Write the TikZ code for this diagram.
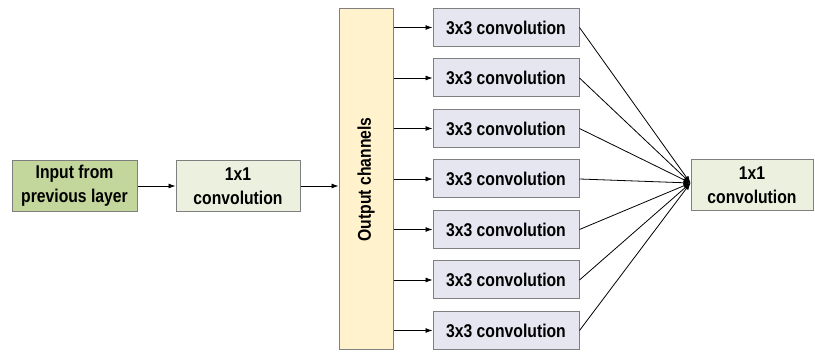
\documentclass[tikz,border=0pt]{standalone}
\usepackage{fontspec}
\setmainfont{Liberation Sans}[FakeStretch=0.85]
\usetikzlibrary{arrows.meta,positioning}

\definecolor{edgegray}{HTML}{7F7F7F}
\definecolor{inputgreen}{HTML}{C3D69B}
\definecolor{convgreen}{HTML}{EBF1DE}
\definecolor{chanyellow}{HTML}{FFF2CC}
\definecolor{convlilac}{HTML}{E6E6F0}

\tikzset{
  block/.style={draw=edgegray, line width=1pt, inner sep=0pt, align=center},
  inbox/.style={block, fill=inputgreen, minimum width=125pt, minimum height=51pt},
  onebox/.style={block, fill=convgreen, minimum width=124pt, minimum height=51pt},
  chanbar/.style={block, fill=chanyellow, minimum width=341pt, minimum height=54pt, rotate=90},
  threebox/.style={block, fill=convlilac, minimum width=146pt, minimum height=38pt},
  flow/.style={line width=0.8pt, -{Latex[length=7pt,width=5pt]}}
}

\begin{document}
\begin{tikzpicture}[x=1pt,y=-1pt,font=\fontsize{18.5}{24}\selectfont\bfseries]
  \useasboundingbox (0,0) rectangle (815,352);

  % left part
  \node[inbox] (input) at (74.5,186) {Input from\\previous layer};
  \node[onebox] (reduce) at (238,186) {1x1\\convolution};
  \node[chanbar] (channels) at (366,179.5) {Output channels};
  \node[onebox, minimum width=122pt] (output) at (752,185.5) {1x1\\convolution};
  \coordinate (merge) at ([yshift=2.5pt]output.west);

  \draw[flow] (input) -- (reduce);
  \draw[flow] (reduce.east) -- (reduce.east -| channels.north);

  % the 3x3 branches
  \foreach \i in {0,...,6}{
    \node[threebox] (branch\i) at (506,27.5+50.5*\i) {3x3 convolution};
    \draw[flow] (branch\i.west -| channels.south) -- (branch\i.west);
    \draw[flow] (branch\i.east) -- (merge);
  }
\end{tikzpicture}
\end{document}
